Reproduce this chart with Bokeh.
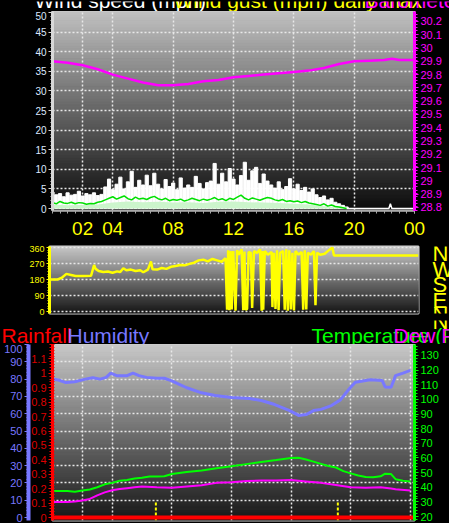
import numpy as np
from bokeh.plotting import figure
from bokeh.layouts import column, row
from bokeh.models import Range1d, LinearAxis, FixedTicker
from bokeh.core.properties import value
from bokeh.embed import file_html
from bokeh.resources import INLINE

# ---------------- data ----------------
# wind speed, sampled every 15 minutes from 00:00 to 19:30 (mph)
wind_gust = [4.2, 3.5, 3.8, 3.0, 4.0, 3.4, 3.6, 4.4, 3.2, 3.8, 3.5, 4.0, 3.3, 3.6,
             5.5, 7.5, 4.8, 6.2, 8.0, 5.0, 6.8, 9.5, 5.4, 7.2, 6.0, 8.5,
             5.8, 9.0, 6.2, 5.0, 7.4, 5.6, 6.5, 4.8, 7.8, 5.2, 6.0, 5.4, 8.2, 6.4, 5.0, 6.6,
             7.0, 11.5, 6.2, 9.0, 6.8, 10.2, 7.5, 6.0, 8.4, 11.8, 7.2, 9.6, 10.5, 6.4, 8.8, 7.0,
             6.0, 5.2, 6.8, 4.8, 5.6, 7.6, 5.0, 6.2, 4.6, 5.4, 4.2, 5.0,
             3.5, 2.8, 3.2, 2.2, 2.6, 1.6, 1.2, 0.8, 0.4]
wind_avg = [1.5, 1.2, 1.8, 1.4, 1.3, 1.6, 1.2, 1.5, 1.4, 1.1, 1.3, 1.2, 1.6, 1.8,
            2.2, 2.6, 3.0, 2.4, 2.8, 3.2, 2.5, 2.2, 2.9, 2.4, 2.6, 2.3,
            2.8, 3.1, 2.5, 2.2, 2.6, 2.0, 2.3, 2.1, 2.4, 1.9, 2.2, 2.6, 2.3, 2.0, 2.4, 2.1,
            2.4, 2.8, 2.2, 2.5, 2.0, 2.6, 2.3, 2.9, 3.4, 2.6, 2.2, 2.7, 2.4, 2.1, 2.5, 2.8,
            2.6, 2.2, 2.0, 2.3, 1.8, 2.0, 1.7, 1.9, 1.5, 1.8, 1.4, 1.2,
            1.0, 0.8, 1.2, 0.6, 0.9, 0.5, 0.4, 0.2, 0.0]
wind_hours = [i * 0.25 for i in range(len(wind_gust))]
calm_hours = [19.5, 22.3, 22.4, 22.5, 24.0]
calm_gust = [0, 0, 1.2, 0, 0]
low_hours = [0, 1, 2, 3, 4, 5, 6, 7, 8, 9, 10, 11, 12, 13, 14, 15, 16, 17, 18, 19, 19.5]
wind_low = [1.0, 0.8, 0.9, 1.0, 1.5, 1.8, 1.6, 1.7, 1.5, 1.6, 1.4, 1.7, 1.8, 1.6, 1.5,
            1.4, 1.2, 1.0, 0.6, 0.3, 0.0]

baro_hours = [0, 1, 2, 3, 4, 5, 6, 7, 8, 9, 10, 11, 12, 13, 14, 15, 16, 17, 18, 19,
              20, 21, 22, 22.5, 23, 24]
baro_inhg = [29.90, 29.89, 29.87, 29.84, 29.80, 29.77, 29.74, 29.72, 29.72, 29.73,
             29.75, 29.76, 29.78, 29.79, 29.80, 29.81, 29.82, 29.83, 29.85, 29.88,
             29.90, 29.905, 29.91, 29.92, 29.91, 29.91]

dir_hours = [0, 0.5, 0.8, 1.1, 1.4, 1.7, 2.2, 2.7, 2.9, 3.0,
             3.2, 3.5, 3.8, 4.1, 4.4, 4.6, 4.8, 5.0, 5.3, 5.6,
             5.9, 6.1, 6.4, 6.6, 6.7, 7.0, 7.3, 7.6, 7.9, 8.2,
             8.5, 8.8, 9.1, 9.4, 9.7, 10.0, 10.3, 10.6, 10.9, 11.2,
             11.45, 11.55, 11.62, 11.7, 11.78, 11.85, 11.95, 12.1, 12.2, 12.3,
             12.5, 12.6, 12.68, 12.75, 12.85, 12.95, 13.1, 13.18, 13.3, 13.5,
             13.7, 13.8, 13.85, 13.9, 14.0, 14.2, 14.45, 14.5, 14.6, 14.7,
             14.8, 14.9, 15.0, 15.2, 15.3, 15.4, 15.5, 15.6, 15.7, 15.8,
             15.9, 16.0, 16.2, 16.4, 16.5, 16.6, 16.7, 16.8, 17.0, 17.2,
             17.3, 17.4, 17.6, 17.9, 18.1, 18.4, 18.5, 24.0]
dir_deg = [180, 180, 190, 212, 206, 200, 200, 201, 262, 240,
           228, 222, 225, 218, 226, 222, 244, 232, 236, 228,
           232, 221, 236, 282, 238, 236, 245, 240, 252, 256,
           262, 260, 268, 275, 288, 292, 282, 296, 288, 280,
           300, 10, 345, 8, 340, 12, 340, 5, 345, 320,
           350, 8, 338, 10, 15, 335, 330, 20, 340, 330,
           350, 5, 340, 10, 340, 320, 335, 25, 330, 15,
           345, 8, 330, 340, 10, 350, 5, 345, 12, 330,
           6, 340, 320, 335, 10, 345, 12, 330, 320, 340,
           35, 330, 320, 325, 340, 360, 315, 315]

hum_hours = [0, 0.4, 0.9, 1.5, 2.2, 2.7, 3.2, 3.6, 3.9, 4.3,
             5.0, 5.4, 5.8, 6.3, 7.0, 7.5, 8.0, 8.5, 9.0, 9.9,
             10.9, 12.0, 13.2, 14.0, 14.9, 15.9, 16.5, 17.0, 17.5, 18.0,
             18.7, 19.3, 19.9, 20.3, 21.3, 22.1, 22.3, 22.7, 23.0, 23.5, 24.0]
hum_pct = [80, 79.5, 78, 78.5, 80, 80.8, 80, 81, 83.4, 82,
           82, 83.4, 82, 81, 80.5, 80.5, 79, 77, 75, 72.3,
           70.5, 69.4, 68.8, 67.6, 65.3, 61.8, 59, 59.5, 61.8, 62.5,
           64.7, 68, 74.4, 78.2, 79.6, 79.2, 75.5, 75.3, 82, 83.5, 85]

temp_hours = [0, 1, 1.5, 2, 2.5, 3, 3.5, 4, 4.5, 5,
              5.5, 6, 6.5, 7, 7.5, 8, 9, 10, 11, 12,
              13, 14, 15, 16, 16.5, 17, 17.5, 18, 18.5, 19,
              19.5, 20, 20.5, 21, 21.5, 22, 22.3, 22.7, 23, 23.5, 24]
temp_f = [37.5, 37.5, 37, 37.8, 38.5, 40, 42, 43, 44.5, 45,
          46, 46.5, 47.3, 47.3, 47.5, 49, 50.5, 51.5, 53, 54.3,
          55.8, 57.3, 58.6, 60, 60.2, 59, 57.5, 56, 54.5, 53.5,
          51, 49.5, 48, 47, 46.8, 47.5, 49.3, 49, 45.5, 44.5, 44]

dew_hours = [0, 1, 1.5, 2, 2.5, 3, 3.5, 4, 4.5, 5,
             5.5, 6, 7, 8, 9, 10, 11, 12, 13, 14,
             15, 16, 17, 18, 19, 20, 21, 22, 22.7, 23, 24]
dew_f = [30, 30, 30.3, 31, 32, 34.5, 36.5, 38, 38.8, 39.4,
         40, 40.5, 40, 39.6, 40.5, 41.3, 43, 43.4, 44.2, 44.6,
         44.7, 45, 44, 43, 41.5, 40, 39.6, 40, 39.2, 38.6, 37.8]

rain_hours = [0, 24.27]
rain_in = [0, 0]
sun_hours = [6.93, 19.13]          # sunrise / sunset markers

hour_ticks = [2, 4, 8, 12, 16, 20, 24]
hour_labels = {2: "02", 4: "04", 8: "08", 12: "12", 16: "16", 20: "20", 24: "00"}
wind_ticks = [0, 5, 10, 15, 20, 25, 30, 35, 40, 45, 50]
baro_ticks = [28.8, 28.9, 29.0, 29.1, 29.2, 29.3, 29.4, 29.5, 29.6, 29.7, 29.8, 29.9,
              30.0, 30.1, 30.2]
dir_ticks = [0, 90, 180, 270, 360]
rain_ticks = [0, 0.1, 0.2, 0.3, 0.4, 0.5, 0.6, 0.7, 0.8, 0.9, 1.0, 1.1]
hum_ticks = [0, 10, 20, 30, 40, 50, 60, 70, 80, 90, 100]
temp_ticks = [20, 30, 40, 50, 60, 70, 80, 90, 100, 110, 120, 130]
compass = ["N", "W", "S", "E", "N"]
top_titles = ["Wind speed (mph)", "Wind gust (mph) daily max", "Barometer (inHg)"]
bottom_titles = ["Rainfall", "Humidity", "Temperature (F)", "Dew Point (F)"]

# ---------------- helpers ----------------
FONT = "Liberation Sans"
W = 449
TXT_SHIFT = 8   # alphabetic baseline correction observed for ~21px text


def base_fig(w, h, xr, yr, l, r, t, b, **kw):
    p = figure(width=w, height=h, x_range=xr, y_range=yr, min_border_left=l,
               min_border_right=r, min_border_top=t, min_border_bottom=b,
               output_backend="svg", toolbar_location=None, **kw)
    p.background_fill_color = "black"
    p.border_fill_color = "black"
    p.outline_line_color = "#d4d4d4"
    p.outline_line_width = 2
    return p


def strip(w, h):
    s = base_fig(w, h, Range1d(0, w), Range1d(h, 0), 0, 0, 0, 0,
                 x_axis_location=None, y_axis_location=None)
    s.grid.visible = False
    s.outline_line_color = None
    return s


def gradient(p, y0, y1, top_rgb, bot_rgb, n=64):
    edges = np.linspace(y0, y1, n + 1)
    cols = []
    for i in range(n):
        f = (i + 0.5) / n
        rgb = [int(round(b + (t - b) * f)) for t, b in zip(top_rgb, bot_rgb)]
        cols.append("#%02x%02x%02x" % tuple(rgb))
    p.quad(left=-1, right=26, bottom=edges[:-1], top=edges[1:], fill_color=cols,
           line_color=cols, line_width=1, level="image")


def style_axis(ax, color, label_color, size="10px", line_w=3, tick_out=4, minor_out=2, minor_in=0):
    ax.axis_line_color = color
    ax.axis_line_width = line_w
    ax.major_tick_line_color = color
    ax.major_tick_out = tick_out
    ax.major_tick_in = 0
    ax.minor_tick_line_color = color
    ax.minor_tick_out = minor_out
    ax.minor_tick_in = minor_in
    ax.major_label_text_color = label_color
    ax.major_label_text_font = FONT
    ax.major_label_text_font_size = size
    ax.major_label_standoff = 2


def grid_style(g):
    g.grid_line_color = "#e8e8e8"
    g.grid_line_dash = "2 2"
    g.grid_line_width = 1.5


def put_text(s, xs, baselines, texts, colors, size):
    s.text(x=xs, y=[b - TXT_SHIFT for b in baselines], text=texts, text_color=colors,
           text_font=value(FONT), text_font_size=size, text_baseline="alphabetic",
           text_align="left")


BLACK = {"background-color": "black"}

# ---------------- top title strip (cut by the top edge, as in the original) ----------------
s0 = strip(W, 11)
put_text(s0, [34, 173, 364], [7, 7, 7], top_titles, ["white", "#ffff00", "#ff00ff"], "21px")

# ---------------- panel 1: wind speed + barometer ----------------
p1 = base_fig(W, 234, Range1d(0, 24), Range1d(-0.51, 50.26), 42, 35, 0, 35)
p1.extra_y_ranges = {"baro": Range1d(28.777, 30.275)}
gradient(p1, -0.51, 50.26, (0xc0, 0xc0, 0xc0), (0x0a, 0x0a, 0x0a))
p1.vbar(x=wind_hours, width=0.21, bottom=0, top=wind_gust, color="white")
p1.line(calm_hours, calm_gust, color="white", line_width=1.5)
p1.varea(x=low_hours, y1=0, y2=wind_low, color="#ccf5cc")
p1.line(wind_hours, wind_avg, color="#00e000", line_width=1.5)
p1.line(baro_hours, baro_inhg, y_range_name="baro", color="#ff00ff", line_width=2.5)

xa = p1.xaxis[0]
xa.ticker = FixedTicker(ticks=hour_ticks, minor_ticks=[i * 0.5 for i in range(49)])
xa.major_label_overrides = hour_labels
style_axis(xa, "#a8a8a8", "#ffff00", size="19px", line_w=2, tick_out=3, minor_out=3)
xa.major_label_standoff = 8
ya = p1.yaxis[0]
ya.ticker = FixedTicker(ticks=wind_ticks, minor_ticks=list(range(51)))
style_axis(ya, "#d8d8d8", "#dde8ff", size="10px")
pa = LinearAxis(y_range_name="baro",
                ticker=FixedTicker(ticks=baro_ticks,
                                   minor_ticks=[round(28.78 + 0.025 * i, 3) for i in range(61)]))
pa.major_label_overrides = {29.0: "29", 30.0: "30"}
style_axis(pa, "#ff00ff", "#ff00ff", size="11px", minor_out=3, minor_in=1)
p1.add_layout(pa, "right")
p1.xgrid.ticker = hour_ticks
p1.ygrid.ticker = wind_ticks[1:-1]
grid_style(p1.xgrid[0])
grid_style(p1.ygrid[0])

# ---------------- panel 2: wind direction ----------------
p2 = base_fig(424, 75, Range1d(0, 24), Range1d(-11, 366), 49, 6, 1, 7, x_axis_location=None)
gradient(p2, -11, 366, (0xc8, 0xc8, 0xc8), (0x14, 0x14, 0x14))
p2.line(dir_hours, dir_deg, color="#ffff00", line_width=2.5)
da = p2.yaxis[0]
da.ticker = FixedTicker(ticks=dir_ticks, minor_ticks=list(range(0, 361, 15)))
style_axis(da, "#ffff00", "#ffff00", size="9px", tick_out=3)
p2.xgrid.visible = False
p2.ygrid.ticker = dir_ticks
grid_style(p2.ygrid[0])

s2 = strip(W - 424, 75)
put_text(s2, [8, 8, 8, 8, 8], [16, 34, 51, 68, 84], compass, ["#ffff00"] * 5, "22px")

# ---------------- bottom title strip ----------------
s3 = strip(W, 24)
put_text(s3, [1, 67, 311, 393], [23, 23, 23, 23], bottom_titles,
         ["#ff0000", "#7878ff", "#00ff00", "#ff00ff"], "21px")
put_text(s3, [432], [9], compass[4:], ["#ffff00"], "22px")

# ---------------- panel 3: rain, humidity, temperature, dew point ----------------
p3 = base_fig(W, 179, Range1d(0, 24.27), Range1d(-1.73, 100), 52, 33, 0, 3,
              x_axis_location=None, y_axis_location=None)
p3.extra_y_ranges = {"rain": Range1d(-0.0208, 1.2), "temp": Range1d(17.3, 137.5)}
gradient(p3, -1.73, 100, (0xc8, 0xc8, 0xc8), (0x16, 0x16, 0x16))
p3.line(hum_hours, hum_pct, color="#7878ff", line_width=3)
p3.line(temp_hours, temp_f, y_range_name="temp", color="#00ff00", line_width=2)
p3.line(dew_hours, dew_f, y_range_name="temp", color="#ff00ff", line_width=2)
p3.segment(x0=sun_hours, y0=-0.02, x1=sun_hours, y1=0.105, y_range_name="rain",
           line_color="#ffff00", line_width=2, line_dash="3 2")
p3.line(rain_hours, rain_in, y_range_name="rain", color="#ff0000", line_width=4)

ra = LinearAxis(y_range_name="rain",
                ticker=FixedTicker(ticks=rain_ticks,
                                   minor_ticks=[round(0.02 * i, 2) for i in range(61)]))
ra.major_label_overrides = {0: "0", 1.0: "1"}
style_axis(ra, "#ff0000", "#dd0000", size="11px", minor_out=3, minor_in=2)
p3.add_layout(ra, "left")
ha = LinearAxis(ticker=FixedTicker(ticks=hum_ticks, minor_ticks=list(range(0, 101, 2))))
style_axis(ha, "#7878ff", "#7878ff", size="11px", line_w=4)
p3.add_layout(ha, "left")
ta = LinearAxis(y_range_name="temp",
                ticker=FixedTicker(ticks=temp_ticks, minor_ticks=list(range(18, 138, 2))))
style_axis(ta, "#00ff00", "#00ff00", size="11px", minor_out=3, minor_in=1)
p3.add_layout(ta, "right")
p3.xgrid.ticker = hour_ticks
p3.ygrid.ticker = hum_ticks[1:-1]
grid_style(p3.xgrid[0])
grid_style(p3.ygrid[0])

layout = column(row(s0, styles=BLACK), p1, row(p2, s2, styles=BLACK),
                row(s3, styles=BLACK), p3, styles=BLACK)
open("out.html", "w").write(file_html(layout, INLINE))
